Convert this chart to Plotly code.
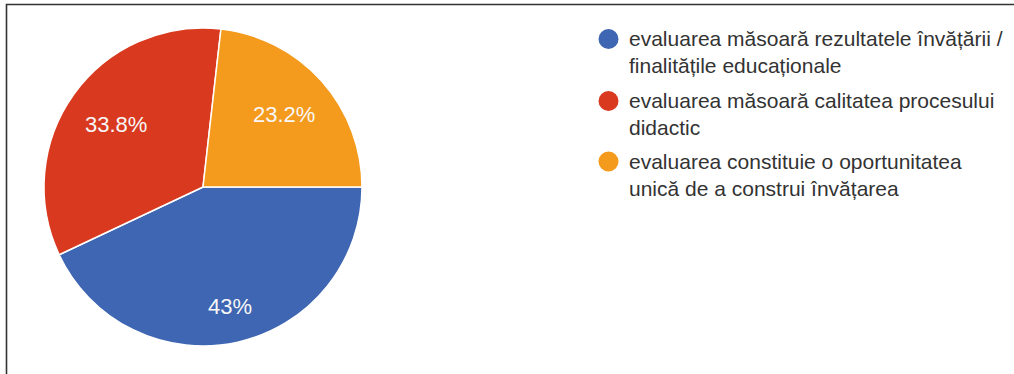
import math
import plotly.graph_objects as go

W, H = 1014, 374

# Survey answers and their shares (%)
labels = [
    "evaluarea măsoară rezultatele învățării / finalitățile educaționale",
    "evaluarea măsoară calitatea procesului didactic",
    "evaluarea constituie o oportunitatea unică de a construi învățarea",
]
legend_lines = [
    ["evaluarea măsoară rezultatele învățării /", "finalitățile educaționale"],
    ["evaluarea măsoară calitatea procesului", "didactic"],
    ["evaluarea constituie o oportunitatea", "unică de a construi învățarea"],
]
shares = [43, 33.8, 23.2]
colors = ["#3f66b2", "#d93a1f", "#f49a1c"]

FONT = "Liberation Sans, Arial, sans-serif"

# pie geometry in pixels
cx, cy, r = 203, 187, 159
start_deg = 90  # first slice starts at 3 o'clock, running clockwise

fig = go.Figure(
    go.Pie(
        labels=labels,
        values=shares,
        sort=False,
        direction="clockwise",
        rotation=start_deg,
        marker=dict(colors=colors, line=dict(color="white", width=1.5)),
        textinfo="none",
        showlegend=False,
        hoverinfo="label+percent",
        domain=dict(
            x=[(cx - r) / W, (cx + r) / W],
            y=[(H - cy - r) / H, (H - cy + r) / H],
        ),
    )
)

shapes = [
    # outer frame
    dict(type="rect", xref="paper", yref="paper",
         x0=6.5 / W, x1=1.02, y0=-0.05, y1=1 - 4.5 / H,
         line=dict(color="#333333", width=1.6), fillcolor="rgba(0,0,0,0)"),
]
annotations = []


def pct_text(v):
    s = f"{v:.1f}".rstrip("0").rstrip(".")
    return s + "%"


# percentage labels placed along each slice's mid-angle
label_radius = [0.77, 0.67, 0.68]
total = sum(shares)
cum = 0.0
for v, rf in zip(shares, label_radius):
    mid = start_deg + 360.0 * (cum + v / 2) / total
    cum += v
    a = math.radians(mid)
    px = cx + rf * r * math.sin(a)
    py = cy - rf * r * math.cos(a)
    annotations.append(dict(
        xref="paper", yref="paper", x=px / W, y=1 - py / H,
        xanchor="center", yanchor="middle", showarrow=False,
        text=pct_text(100.0 * v / total),
        font=dict(family=FONT, size=22, color="#f7f7f7"),
    ))

# legend: coloured dots with two-line captions
entry_top = [39, 101, 161.5]
dot_x, text_x, line_gap, dot_r = 608.5, 627, 26.5, 10
for i, (lines, col) in enumerate(zip(legend_lines, colors)):
    yc = entry_top[i]
    shapes.append(dict(type="circle", xref="paper", yref="paper",
                       x0=(dot_x - dot_r) / W, x1=(dot_x + dot_r) / W,
                       y0=1 - (yc + dot_r) / H, y1=1 - (yc - dot_r) / H,
                       fillcolor=col, line=dict(width=0)))
    for j, txt in enumerate(lines):
        annotations.append(dict(
            xref="paper", yref="paper", x=text_x / W, y=1 - (yc + j * line_gap) / H,
            xanchor="left", yanchor="middle", showarrow=False, text=txt,
            font=dict(family=FONT, size=21, color="#333333"),
        ))

fig.update_layout(
    width=W, height=H,
    margin=dict(l=0, r=0, t=0, b=0),
    paper_bgcolor="white",
    plot_bgcolor="white",
    shapes=shapes,
    annotations=annotations,
)

fig.write_html("out.html")
